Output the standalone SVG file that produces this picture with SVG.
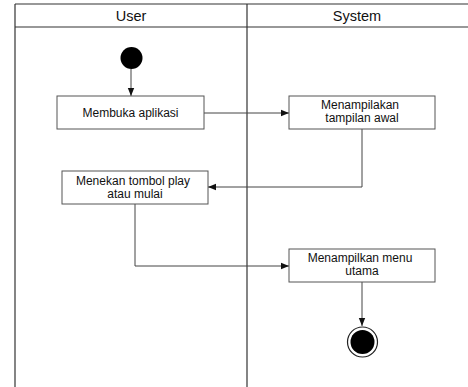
<svg xmlns="http://www.w3.org/2000/svg" width="468" height="387" viewBox="0 0 468 387">
<defs>
<style>
.lane{stroke:#333;stroke-width:1.2;fill:none}
.box{fill:#fff;stroke:#555;stroke-width:1}
.lbl{font-family:"Liberation Sans",Arial,sans-serif;font-size:12px;fill:#111;text-anchor:middle}
.hdr{font-family:"Liberation Sans",Arial,sans-serif;font-size:14.5px;fill:#111;text-anchor:middle}
.edge{stroke:#444;stroke-width:1;fill:none;marker-end:url(#ah)}
</style>
<marker id="ah" viewBox="0 0 10 10" refX="10" refY="5" markerWidth="8" markerHeight="8" markerUnits="userSpaceOnUse" orient="auto">
<path d="M0,1 L10,5 L0,9 z" fill="#111"/>
</marker>
</defs>
<rect width="468" height="387" fill="#fff"/>
<g id="swimlanes">
<line class="lane" x1="15" y1="4" x2="468" y2="4"/>
<line class="lane" x1="15" y1="27" x2="468" y2="27"/>
<line class="lane" x1="15" y1="4" x2="15" y2="387"/>
<line class="lane" x1="247" y1="4" x2="247" y2="387"/>
<text class="hdr" x="131" y="21">User</text>
<text class="hdr" x="357" y="21">System</text>
</g>
<g id="connectors">
<path class="edge" d="M131,69 V96"/>
<path class="edge" d="M204,113 H289"/>
<path class="edge" d="M362,129 V187 H208"/>
<path class="edge" d="M135,204 V266 H289"/>
<path class="edge" d="M362,282 V326"/>
</g>
<g id="start">
<circle cx="131.5" cy="58" r="11" fill="#000"/>
</g>
<g id="membuka">
<rect class="box" x="57" y="96" width="147" height="33"/>
<text class="lbl" x="130.5" y="117">Membuka aplikasi</text>
</g>
<g id="tampilan">
<rect class="box" x="289" y="96" width="146" height="33"/>
<text class="lbl" x="360" y="109">Menampilakan</text>
<text class="lbl" x="362" y="122">tampilan awal</text>
</g>
<g id="menekan">
<rect class="box" x="62" y="171" width="146" height="33"/>
<text class="lbl" x="133" y="185">Menekan tombol play</text>
<text class="lbl" x="135" y="198">atau mulai</text>
</g>
<g id="menu">
<rect class="box" x="289" y="249" width="146" height="33"/>
<text class="lbl" x="360" y="262">Menampilkan menu</text>
<text class="lbl" x="362" y="275">utama</text>
</g>
<g id="end">
<circle cx="362.5" cy="342" r="15" fill="#fff" stroke="#222" stroke-width="1.2"/>
<circle cx="362.5" cy="342" r="12" fill="#000"/>
</g>
</svg>
